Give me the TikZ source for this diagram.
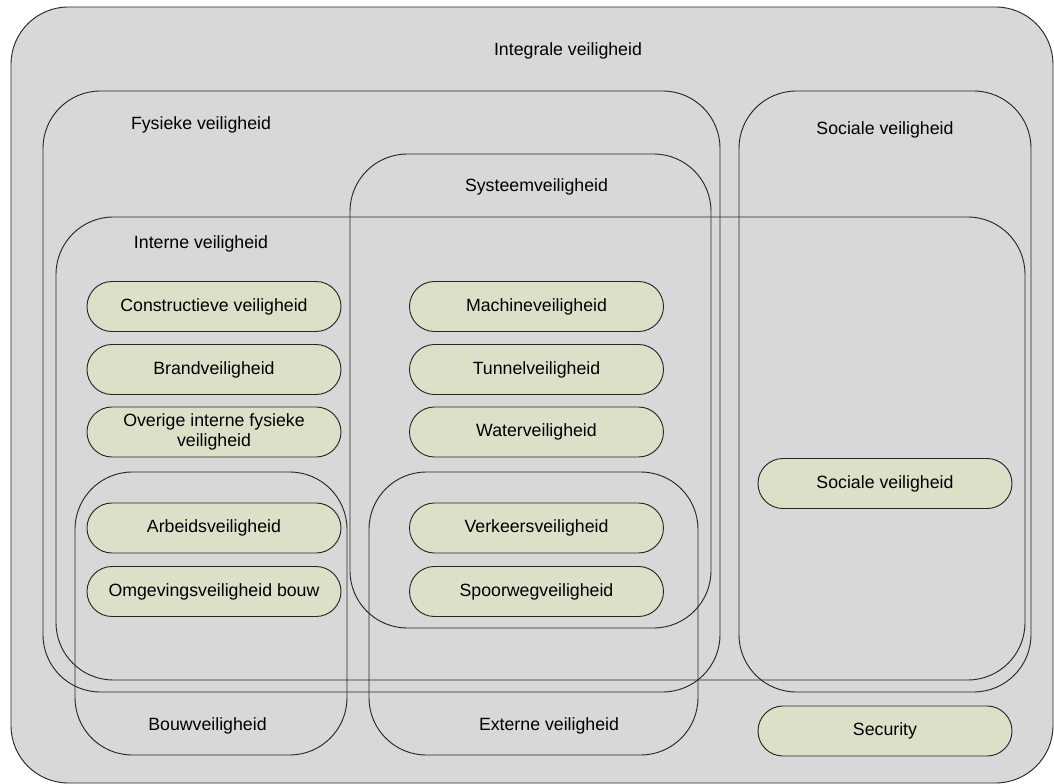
\documentclass[tikz,border=0pt]{standalone}
\usepackage{fontspec}
\setmainfont{Liberation Sans}
\definecolor{grijs}{RGB}{216,216,216}
\definecolor{vakgroen}{RGB}{221,224,200}
\begin{document}
\begin{tikzpicture}[x=0.75pt,y=-0.75pt,
  every node/.style={font=\fontsize{13.3}{15.5}\selectfont,inner sep=0pt},
  gebied/.style={draw=black!85,line width=0.7pt,rounded corners=43pt},
  vak/.style={draw=black!85,line width=0.7pt,fill=vakgroen,rounded corners=18.75pt,
    minimum width=190.5pt,minimum height=37.5pt,align=center}]
\useasboundingbox (0,0) rectangle (1054,784);
\draw [gebied,fill=grijs] (11,7) rectangle (1053,783);
\draw [gebied] (43,91) rectangle (720,692);
\draw [gebied] (739,91) rectangle (1031,692);
\draw [gebied] (350,154) rectangle (711,628);
\draw [gebied] (56,217) rectangle (1025,680);
\draw [gebied] (75,472) rectangle (347,755);
\draw [gebied] (369,472) rectangle (698,755);
\node (integraal) at (568,51) {Integrale veiligheid};
\node (fysiek) at (201,125) {Fysieke veiligheid};
\node (sociaal) at (885,130) {Sociale veiligheid};
\node (systeem) at (536.5,187) {Systeemveiligheid};
\node (intern) at (201,244) {Interne veiligheid};
\node (bouw) at (207.5,726) {Bouwveiligheid};
\node (extern) at (549,726) {Externe veiligheid};
\node [vak] (constructief) at (214,306.5) {Constructieve veiligheid};
\node [vak] (brand) at (214,369.5) {Brandveiligheid};
\node [vak] (overig) at (214,432) {Overige interne fysieke\\veiligheid};
\node [vak] (arbeid) at (214,528) {Arbeidsveiligheid};
\node [vak] (omgeving) at (214,591.5) {Omgevingsveiligheid bouw};
\node [vak] (machine) at (536.5,306.5) {Machineveiligheid};
\node [vak] (tunnel) at (536.5,369.5) {Tunnelveiligheid};
\node [vak] (water) at (536.5,432) {Waterveiligheid};
\node [vak] (verkeer) at (536.5,528) {Verkeersveiligheid};
\node [vak] (spoorweg) at (536.5,591.5) {Spoorwegveiligheid};
\node [vak] (sociaalvak) at (885,483.5) {Sociale veiligheid};
\node [vak] (security) at (885,731) {Security};
\end{tikzpicture}
\end{document}
